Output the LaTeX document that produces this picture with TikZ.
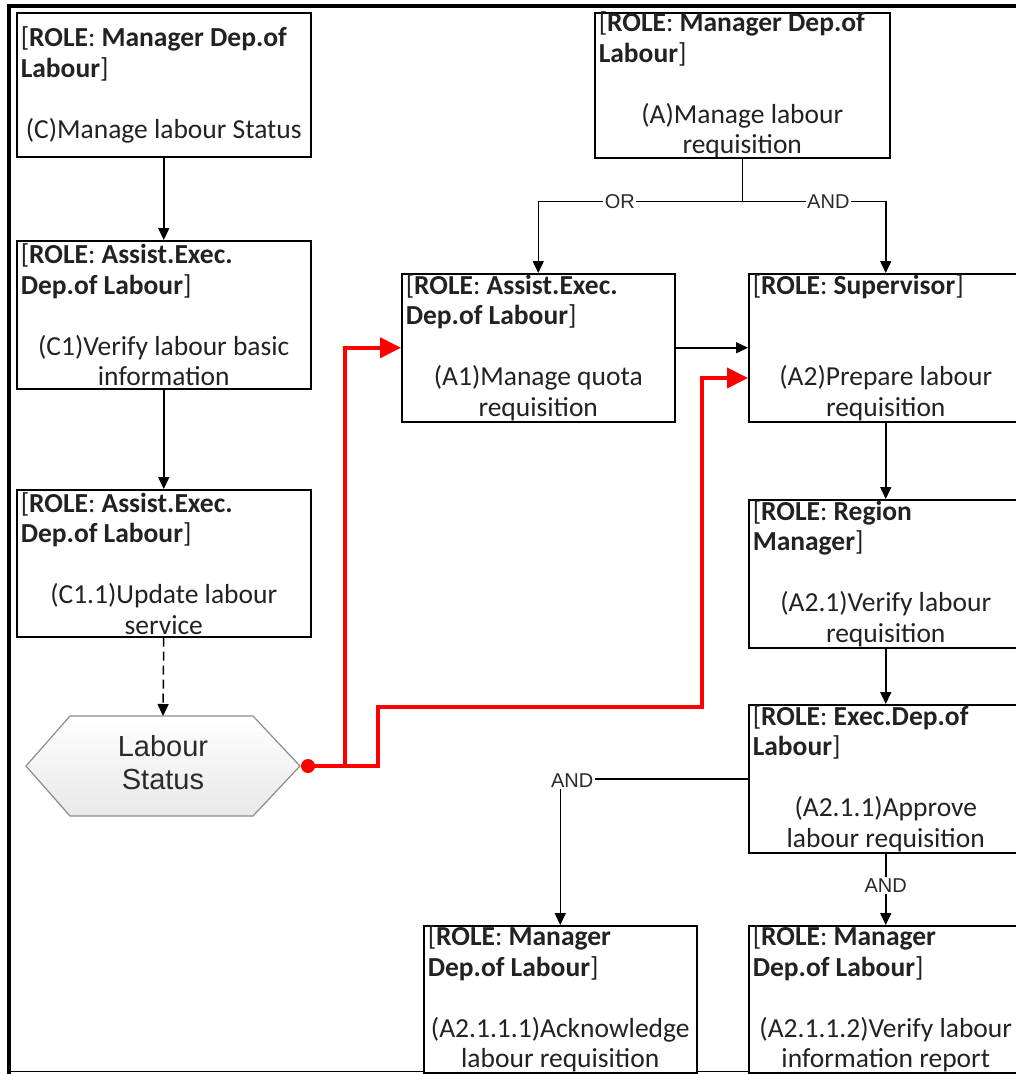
\documentclass[tikz,border=0pt]{standalone}
\usepackage{fontspec}
\setmainfont{Carlito}
\newfontfamily\arialf{Liberation Sans}
\usetikzlibrary{arrows.meta,calc}
\definecolor{txtgray}{HTML}{222222}
\definecolor{lblgray}{HTML}{2A2A2A}
\newcommand{\rl}[1]{[\textbf{ROLE}: \textbf{#1}]}
\newcommand{\mybox}[7]{%
  \node[boxst, minimum width=#4pt, minimum height=#5pt, anchor=north west] (#1) at (#2,#3) {};
  \node[txtst, text width=#6pt] (#1t) at (#1.center) {#7};}
\tikzset{
  boxst/.style={draw=black, line width=1.5pt, fill=white, rectangle, inner sep=0pt},
  txtst/.style={inner xsep=0pt, inner ysep=0pt, align=flush left, text=txtgray,
    font=\fontsize{27.5}{30.5}\selectfont},
  conn/.style={line width=1.5pt, draw=black, -{Triangle[length=12pt,width=11pt]}},
  redconn/.style={line width=4pt, draw=red, -{Triangle[length=21pt,width=20pt]}},
  lbl/.style={fill=white, inner sep=1.5pt, text=lblgray, font=\arialf\fontsize{20}{22}\selectfont},
}
\begin{document}
\begin{tikzpicture}[x=1pt,y=-1pt]
\useasboundingbox (0,0) rectangle (1016,1074);
\clip (0,0) rectangle (1016,1074);
\fill[white] (0,0) rectangle (1016,1074);
% frame
\draw[line width=4pt] (9,1074) -- (9,6) -- (1016,6);
\draw[line width=1.5pt] (9,1071.5) -- (1016,1071.5);

% boxes
\mybox{C}{16}{12}{294}{144}{286}{\rl{Manager Dep.of\\Labour}\par\mbox{}\par{\centering (C)Manage labour Status\par}}
\mybox{C1}{16}{240}{294}{148}{286}{\rl{Assist.Exec.\\Dep.of Labour}\par\mbox{}\par{\centering (C1)Verify labour basic\\information\par}}
\mybox{C11}{16}{489}{294}{147}{286}{\rl{Assist.Exec.\\Dep.of Labour}\par\mbox{}\par{\centering (C1.1)Update labour\\service\par}}
\mybox{A}{594}{12}{295}{145}{287}{\rl{Manager Dep.of\\Labour}\par\mbox{}\par{\centering (A)Manage labour\\requisition\par}}
\mybox{A1}{401}{273}{273}{148}{265}{\rl{Assist.Exec.\\Dep.of Labour}\par\mbox{}\par{\centering (A1)Manage quota\\requisition\par}}
\mybox{A2}{748}{273}{274}{148}{266}{\rl{Supervisor}\par\mbox{}\par\mbox{}\par{\centering (A2)Prepare labour\\requisition\par}}
\mybox{A21}{748}{499}{274}{148}{266}{\rl{Region\\Manager}\par\mbox{}\par{\centering (A2.1)Verify labour\\requisition\par}}
\mybox{A211}{748}{704}{274}{148}{266}{\rl{Exec.Dep.of\\Labour}\par\mbox{}\par{\centering (A2.1.1)Approve\\labour requisition\par}}
\mybox{A2111}{423}{925}{273}{147}{265}{\rl{Manager\\Dep.of Labour}\par\mbox{}\par{\centering (A2.1.1.1)Acknowledge\\labour requisition\par}}
\mybox{A2112}{748}{925}{274}{147}{266}{\rl{Manager\\Dep.of Labour}\par\mbox{}\par{\centering (A2.1.1.2)Verify labour\\information report\par}}

% hexagon
\shade[top color=white, bottom color=black!9, draw=black!45, line width=1.2pt]
  (26,766) -- (70,716) -- (253,716) -- (300,766) -- (253,816) -- (70,816) -- cycle;
\node[align=center, text=lblgray, font=\arialf\fontsize{29}{33}\selectfont] (LS) at (163,763) {Labour\\Status};
\coordinate (LSn) at (163,716);
\coordinate (LSe) at (300,766);

% black connectors
\draw[conn] (C.south) -- (C1.north);
\draw[conn] (C1.south) -- (C11.north);
\draw[conn, dash pattern=on 9pt off 5pt] (C11.south) -- (LSn);
\coordinate (Aj) at ($(A.south)+(0,43)$);
\draw[line width=1.5pt] (A.south) -- (Aj);
\draw[conn] (Aj) -| node[lbl, pos=0.3] {OR} (A1.north);
\draw[conn] (Aj) -| node[lbl, pos=0.3] {AND} (A2.north);
\draw[conn] (A1.east) -- (A2.west);
\draw[conn] (A2.south) -- (A21.north);
\draw[conn] (A21.south) -- (A211.north);
\draw[conn] (A211.west) -| node[lbl, pos=0.5, xshift=12pt, yshift=-2pt] {AND} (A2111.north);
\draw[conn] (A211.south) -- node[lbl, pos=0.45] {AND} (A2112.north);

% red connectors
\node[circle, fill=red, inner sep=0pt, minimum size=14pt] (dot) at (308,766) {};
\coordinate (rj) at (345,766);
\coordinate (A2in) at (748,378);
\draw[line width=4pt, red] (dot.center) -- (rj);
\draw[redconn] (rj) |- (A1.west);
\draw[redconn] (rj) -- (378,766) -- (378,707) -- (702,707) |- (A2in);
\end{tikzpicture}
\end{document}
